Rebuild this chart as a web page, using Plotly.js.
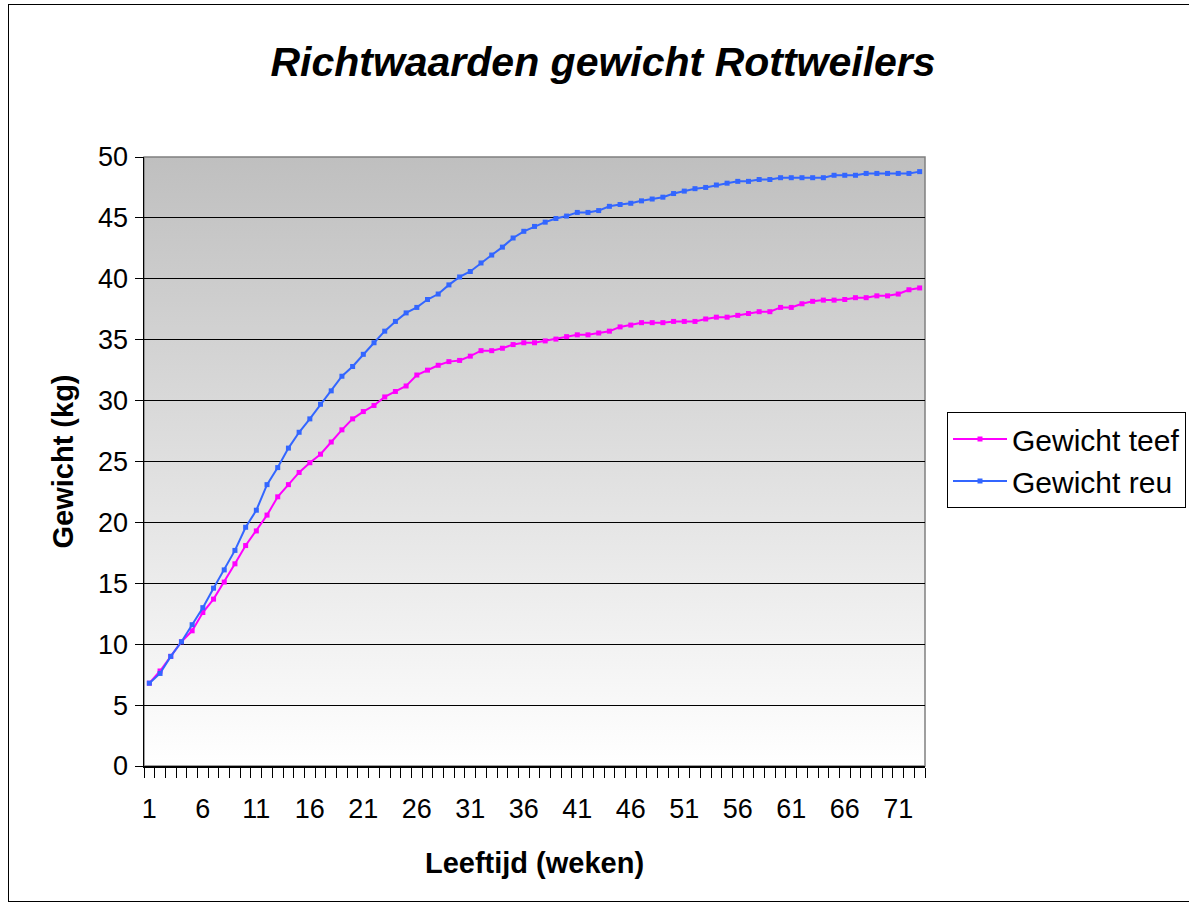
<!DOCTYPE html>
<html>
<head>
<meta charset="utf-8">
<script src="https://cdn.plot.ly/plotly-3.0.1.min.js"></script>
<style>
  html, body { margin:0; padding:0; background:#ffffff; }
  #frame { position:absolute; left:8px; top:4px; width:1200px; height:898px; border:1px solid #000; box-sizing:border-box; }
  #bg { position:absolute; left:144px; top:157px; width:781px; height:609px;
        background: linear-gradient(to bottom, #bfbfbf 0%, #ffffff 100%); }
  #chart { position:absolute; left:0; top:0; width:1189px; height:905px; }
</style>
</head>
<body>
<div id="frame"></div>
<div id="bg"></div>
<div id="chart"></div>
<script>
const weeks = [1,2,3,4,5,6,7,8,9,10,11,12,13,14,15,16,17,18,19,20,21,22,23,24,25,26,27,28,29,30,31,32,33,34,35,36,37,38,39,40,41,42,43,44,45,46,47,48,49,50,51,52,53,54,55,56,57,58,59,60,61,62,63,64,65,66,67,68,69,70,71,72,73];

const gewichtTeef = [6.8,7.8,9.0,10.2,11.1,12.6,13.7,15.1,16.6,18.1,19.3,20.6,22.1,23.1,24.1,24.9,25.6,26.6,27.6,28.5,29.1,29.6,30.3,30.75,31.2,32.1,32.5,32.9,33.2,33.3,33.65,34.1,34.1,34.3,34.6,34.75,34.75,34.9,35.05,35.25,35.4,35.4,35.55,35.7,36.05,36.2,36.4,36.4,36.4,36.5,36.5,36.5,36.7,36.85,36.85,37.0,37.15,37.3,37.3,37.65,37.65,37.95,38.15,38.25,38.25,38.3,38.45,38.45,38.6,38.6,38.75,39.1,39.25];

const gewichtReu = [6.8,7.6,9.0,10.2,11.6,13.0,14.6,16.1,17.7,19.6,21.0,23.1,24.5,26.1,27.4,28.5,29.7,30.8,32.0,32.8,33.8,34.75,35.7,36.5,37.2,37.65,38.3,38.75,39.5,40.15,40.6,41.3,41.95,42.6,43.35,43.9,44.3,44.65,44.95,45.15,45.45,45.45,45.6,45.95,46.1,46.2,46.4,46.55,46.7,47.0,47.2,47.4,47.5,47.7,47.85,48.0,48.0,48.15,48.15,48.3,48.3,48.3,48.3,48.3,48.5,48.5,48.5,48.65,48.65,48.65,48.65,48.65,48.8];

const seriesNames = ['Gewicht teef', 'Gewicht reu'];
const chartTitle = 'Richtwaarden gewicht Rottweilers';
const xTitle = 'Leeftijd (weken)';
const yTitle = 'Gewicht (kg)';

const FONT = 'Liberation Sans, Arial, sans-serif';

const traces = [
  { x: weeks, y: gewichtTeef, name: seriesNames[0], type: 'scatter', mode: 'lines+markers',
    line: { color: '#ff00ff', width: 2 }, marker: { color: '#ff00ff', size: 5, symbol: 'square' } },
  { x: weeks, y: gewichtReu, name: seriesNames[1], type: 'scatter', mode: 'lines+markers',
    line: { color: '#3366ff', width: 2 }, marker: { color: '#3366ff', size: 5, symbol: 'square' } }
];

const layout = {
  width: 1189, height: 905,
  paper_bgcolor: 'rgba(0,0,0,0)', plot_bgcolor: 'rgba(0,0,0,0)',
  margin: { l: 144, r: 264, t: 157, b: 139, pad: 0, autoexpand: false },
  font: { family: FONT, color: '#000' },
  title: { text: '<b><i>' + chartTitle + '</i></b>', font: { family: FONT, size: 41, color: '#000' },
           x: 603 / 1189, xanchor: 'center', xref: 'container', y: 1 - 62/905, yanchor: 'middle', yref: 'container' },
  xaxis: {
    type: 'linear', range: [0.5, 73.5], tickmode: 'linear', tick0: 1, dtick: 5,
    ticks: '', showgrid: false, zeroline: false,
    showline: true, linecolor: '#000', linewidth: 1.5,
    tickfont: { family: FONT, size: 27, color: '#000' }, ticklabelstandoff: 18,
    minor: { ticks: 'outside', ticklen: 10, tickwidth: 1, tickcolor: '#000', tickmode: 'linear', tick0: 0.5, dtick: 1, showgrid: false },
    title: { text: '<b>' + xTitle + '</b>', font: { family: FONT, size: 29, color: '#000' }, standoff: 30 },
    automargin: false, fixedrange: true
  },
  yaxis: {
    range: [0, 50], tickmode: 'linear', tick0: 0, dtick: 5,
    ticks: 'outside', ticklen: 8, tickwidth: 1, tickcolor: '#000',
    showgrid: true, gridcolor: '#000', gridwidth: 1, zeroline: false,
    showline: true, linecolor: '#000', linewidth: 1.5,
    tickfont: { family: FONT, size: 27, color: '#000' }, ticklabelstandoff: 1,
    title: { text: '<b>' + yTitle + '</b>', font: { family: FONT, size: 29, color: '#000' }, standoff: 16 },
    automargin: false, fixedrange: true
  },
  showlegend: true,
  legend: {
    x: (947 - 144) / 781, xanchor: 'left', xref: 'paper',
    y: (766 - 460) / 609, yanchor: 'middle', yref: 'paper',
    bgcolor: '#ffffff', bordercolor: '#000', borderwidth: 1,
    font: { family: FONT, size: 30, color: '#000' }, itemwidth: 54, traceorder: 'normal'
  },
  shapes: [
    { type: 'rect', xref: 'paper', yref: 'paper', x0: 0, x1: 1, y0: 0, y1: 1,
      line: { color: '#808080', width: 1.5 }, fillcolor: 'rgba(0,0,0,0)', layer: 'below' }
  ]
};

Plotly.newPlot('chart', traces, layout, { displayModeBar: false, staticPlot: true });
</script>
</body>
</html>
